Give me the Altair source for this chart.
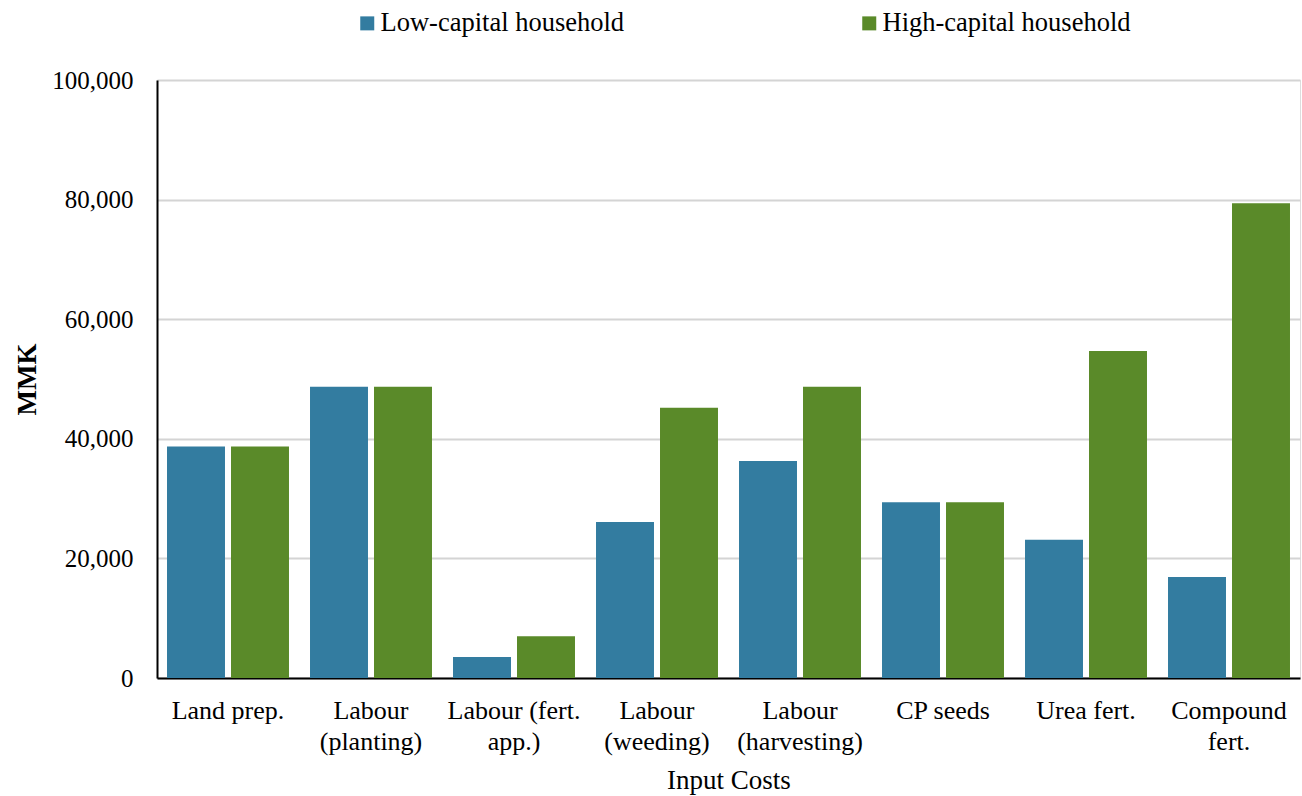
import altair as alt
import pandas as pd

categories = ["Land prep.", "Labour (planting)", "Labour (fert. app.)", "Labour (weeding)",
              "Labour (harvesting)", "CP seeds", "Urea fert.", "Compound fert."]
label_lines = {
    "Land prep.": ["Land prep."],
    "Labour (planting)": ["Labour", "(planting)"],
    "Labour (fert. app.)": ["Labour (fert.", "app.)"],
    "Labour (weeding)": ["Labour", "(weeding)"],
    "Labour (harvesting)": ["Labour", "(harvesting)"],
    "CP seeds": ["CP seeds"],
    "Urea fert.": ["Urea fert."],
    "Compound fert.": ["Compound", "fert."],
}
series = ["Low-capital household", "High-capital household"]
low_capital = [38700, 48700, 3500, 26100, 36300, 29400, 23100, 16900]
high_capital = [38700, 48700, 7000, 45200, 48700, 29400, 54700, 79400]
y_ticks = [0, 20000, 40000, 60000, 80000, 100000]
colors = ["#337CA0", "#5A8A29"]

rows = []
for c, lo, hi in zip(categories, low_capital, high_capital):
    rows.append({"cat": c, "series": series[0], "value": lo})
    rows.append({"cat": c, "series": series[1], "value": hi})
df = pd.DataFrame(rows)

expr_parts = []
for k, v in label_lines.items():
    arr = "[" + ",".join("'" + s + "'" for s in v) + "]"
    expr_parts.append(f"datum.value == '{k}' ? {arr}")
label_expr = " : ".join(expr_parts) + " : datum.value"

font = "Liberation Serif"

chart = alt.Chart(df).mark_bar().encode(
    x=alt.X("cat:N", sort=categories, title="Input Costs",
            scale=alt.Scale(paddingInner=0.147, paddingOuter=0.07),
            axis=alt.Axis(labelExpr=label_expr, labelAngle=0, labelFontSize=26,
                          labelFont=font, labelColor="#000", labelPadding=19,
                          labelLineHeight=31, ticks=False, domainColor="#000",
                          domainWidth=2, titleFont=font, titleFontSize=27,
                          titleFontWeight="normal", titleColor="#000", titlePadding=13)),
    xOffset=alt.XOffset("series:N", sort=series,
                        scale=alt.Scale(paddingInner=0.094, paddingOuter=0)),
    y=alt.Y("value:Q", title="MMK", scale=alt.Scale(domain=[0, 100000]),
            axis=alt.Axis(values=y_ticks, labelExpr="format(datum.value, ',')",
                          labelFontSize=25, labelFont=font, labelColor="#000",
                          labelPadding=24, ticks=False, domainColor="#000",
                          domainWidth=2, gridColor="#d4d4d4", gridWidth=2,
                          titleFont=font, titleFontSize=27, titleFontWeight="bold",
                          titleColor="#000", titlePadding=10)),
    color=alt.Color("series:N", sort=series,
                    scale=alt.Scale(domain=series, range=colors),
                    legend=alt.Legend(title=None, orient="none", legendX=197, legendY=-70,
                                      direction="horizontal", symbolType="square",
                                      symbolSize=196, symbolStrokeWidth=0,
                                      labelFont=font, labelFontSize=26.5,
                                      labelColor="#000", columnPadding=231,
                                      labelOffset=0, labelLimit=400)),
).properties(
    width=1143, height=598,
    autosize=alt.AutoSizeParams(type="none"),
    padding={"left": 157, "top": 80, "right": 2, "bottom": 118},
).configure_view(stroke=None).configure(background="white")

chart.save("out.html", embed_options={"renderer": "svg", "actions": False})
